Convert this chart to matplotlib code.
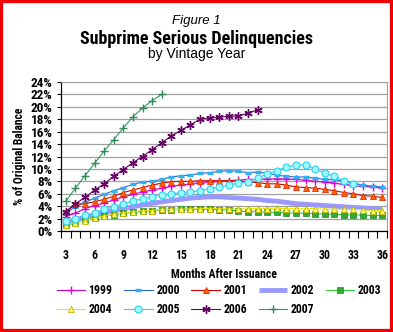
import numpy as np
import matplotlib
matplotlib.use("Agg")
import matplotlib.pyplot as plt
from matplotlib.patches import Rectangle
from matplotlib import font_manager

months = list(range(3, 37))
tick_months = list(range(3, 37, 3))
y_ticks = list(range(0, 25, 2))

s1999 = [2.3, 2.9, 3.6, 4.1, 4.5, 5.0, 5.5, 5.9, 6.3, 6.6, 6.9, 7.2, 7.4, 7.6, 7.8, 7.9, 8.0, 8.1,
         8.2, 8.3, 8.3, 8.4, 8.4, 8.4, 8.3, 8.2, 8.0, 7.9, 7.7, 7.5, 7.3, 7.2, 7.1, 7.0]
s2000 = [2.9, 3.9, 4.6, 5.3, 5.9, 6.5, 7.0, 7.5, 7.9, 8.0, 8.3, 8.7, 8.9, 9.0, 9.3, 9.4, 9.6, 9.7,
         9.6, 9.4, 9.5, 9.3, 9.0, 8.8, 8.7, 8.7, 8.5, 8.3, 8.3, 8.0, 7.7, 7.4, 7.2, 7.1]
s2001 = [3.1, 4.3, 4.4, 4.7, 5.1, 5.6, 6.2, 6.6, 7.0, 7.4, 7.7, 7.95, 8.0, 8.0, 8.1, 8.1, 8.1, 8.1,
         8.1, 7.9, 7.8, 7.6, 7.6, 7.4, 7.1, 7.0, 6.9, 6.7, 6.5, 6.2, 6.0, 5.7, 5.6, 5.4]
s2002 = [1.3, 1.8, 2.2, 2.6, 3.0, 3.3, 3.6, 3.9, 4.2, 4.45, 4.7, 4.9, 5.1, 5.3, 5.4, 5.5, 5.5, 5.4,
         5.3, 5.2, 5.1, 4.9, 4.8, 4.6, 4.4, 4.3, 4.2, 4.1, 4.0, 3.9, 3.8, 3.7, 3.6, 3.5]
s2003 = [0.9, 1.3, 1.7, 2.1, 2.4, 2.6, 2.9, 3.0, 3.2, 3.3, 3.4, 3.45, 3.5, 3.5, 3.5, 3.5, 3.45, 3.4,
         3.2, 3.1, 3.1, 3.0, 3.0, 2.9, 2.9, 2.85, 2.8, 2.75, 2.7, 2.6, 2.6, 2.55, 2.5, 2.5]
s2004 = [1.0, 1.35, 1.65, 2.1, 2.4, 2.7, 2.95, 3.1, 3.3, 3.3, 3.5, 3.5, 3.5, 3.55, 3.6, 3.6, 3.6, 3.55,
         3.5, 3.6, 3.6, 3.6, 3.7, 3.6, 3.6, 3.6, 3.6, 3.5, 3.5, 3.5, 3.5, 3.4, 3.3, 3.3]
s2005 = [1.6, 2.0, 2.5, 2.95, 3.5, 3.9, 4.4, 4.8, 5.2, 5.5, 5.8, 6.0, 6.2, 6.3, 6.5, 6.8, 7.05, 7.4,
         7.7, 7.95, 8.5, 9.2, 9.7, 10.3, 10.6, 10.7, 10.0, 9.3, 8.8, 8.1, 7.5]
s2006 = [3.1, 4.4, 5.4, 6.6, 7.6, 8.8, 9.9, 11.0, 12.0, 13.1, 14.2, 15.3, 16.2, 17.1, 18.0, 18.2,
         18.3, 18.5, 18.5, 19.0, 19.5]
s2007 = [4.8, 6.9, 8.9, 10.9, 12.9, 14.7, 16.6, 18.4, 19.8, 21.0, 22.0]

series = {
    "1999": (s1999, dict(color="#CC00CC", marker="+", ms=6, mew=1.0, mfc="#FF00FF", mec="#E000E0", lw=0.8)),
    "2000": (s2000, dict(color="#3366CC", marker="_", ms=5, mew=2.5, mec="#30B0F0", lw=0.8)),
    "2001": (s2001, dict(color="#D00000", marker="^", ms=5, mew=0.6, mfc="#FF6600", mec="#E03000", lw=0.8)),
    "2002": (s2002, dict(color="#9999FF", marker=None, lw=3.5, solid_capstyle="butt")),
    "2003": (s2003, dict(color="#33CC33", marker="s", ms=3.8, mew=0.5, mfc="#33AA33", mec="#228822", lw=0.8)),
    "2004": (s2004, dict(color="#E8E800", marker="^", ms=5, mew=0.6, mfc="#FFFF66", mec="#C8B400", lw=0.8)),
    "2005": (s2005, dict(color="#33CCFF", marker="o", ms=5, mew=0.8, mfc="#99FFFF", mec="#33CCEE", lw=0.8)),
    "2006": (s2006, dict(color="#660066", marker=(6, 2, 0), ms=6, mew=1.0, mec="#660066", lw=0.8)),
    "2007": (s2007, dict(color="#339966", marker="+", ms=6, mew=1.0, mec="#2E8B57", lw=0.8)),
}

names = {f.name for f in font_manager.fontManager.ttflist}
NARROW = None
for cand in ["Roboto Condensed", "Liberation Sans Narrow", "DejaVu Sans Condensed"]:
    if cand in names:
        NARROW = cand
        break
FONT = ([NARROW] if NARROW else []) + ["Liberation Sans", "DejaVu Sans"]
plt.rcParams["font.family"] = FONT

fig = plt.figure(figsize=(3.93, 3.32), dpi=100)
ax = fig.add_axes([61 / 393, 1 - 231 / 332, (387 - 61) / 393, (231 - 82) / 332])

handles = {}
for name, (vals, kw) in series.items():
    x = months[:len(vals)]
    (h,) = ax.plot(x, vals, label=name, **kw)
    handles[name] = h

ax.set_xlim(2.5, 36.5)
ax.set_ylim(0, 24)
ax.set_yticks(y_ticks)
ax.set_yticklabels([f"{v}%" for v in y_ticks], fontsize=9.5, fontweight="bold")
ax.set_xticks(tick_months)
ax.set_xticklabels([str(m) for m in tick_months], fontsize=8.5, fontweight="bold")
ax.set_xticks(np.arange(2.5, 37, 1), minor=True)
ax.tick_params(axis="x", which="major", length=0, pad=13)
ax.tick_params(axis="x", which="minor", length=5, width=0.8, direction="out")
ax.tick_params(axis="y", which="major", length=3, width=0.8, direction="out", pad=3)
ax.grid(axis="y", color="#A0A0A0", lw=0.9)
ax.set_axisbelow(True)
for s in ["top", "right"]:
    ax.spines[s].set_color("#A0A0A0")
for s in ["left", "bottom"]:
    ax.spines[s].set_color("black")
    ax.spines[s].set_linewidth(0.9)

ax.set_xlabel("Months After Issuance", fontsize=8.5, fontweight="bold", labelpad=4)
ax.set_ylabel("% of Original Balance", fontsize=8.3, fontweight="bold", labelpad=3)

fig.text(0.5, 1 - 21 / 332, "Figure 1", ha="center", va="center", fontsize=9.5, style="italic",
         family=["Liberation Sans", "DejaVu Sans"])
fig.text(0.5, 1 - 38.5 / 332, "Subprime Serious Delinquencies", ha="center", va="center", fontsize=13,
         fontweight="bold")
fig.text(0.5, 1 - 54 / 332, "by Vintage Year", ha="center", va="center", fontsize=10,
         family=["Liberation Sans", "DejaVu Sans"])

order = ["1999", "2004", "2000", "2005", "2001", "2006", "2002", "2007", "2003"]
fig.legend([handles[k] for k in order], order, ncol=5, loc="center",
           bbox_to_anchor=(219 / 393, 1 - 300 / 332), frameon=False,
           prop=dict(size=8.5, weight="bold"), handlelength=2.4, handletextpad=0.3,
           columnspacing=1.0, labelspacing=0.45, borderpad=0)

fig.patches.append(Rectangle((0, 0), 1, 1, transform=fig.transFigure, fill=False,
                             edgecolor="#F00000", lw=4.5, clip_on=False))

fig.savefig("out.png", dpi=100, facecolor="white")
